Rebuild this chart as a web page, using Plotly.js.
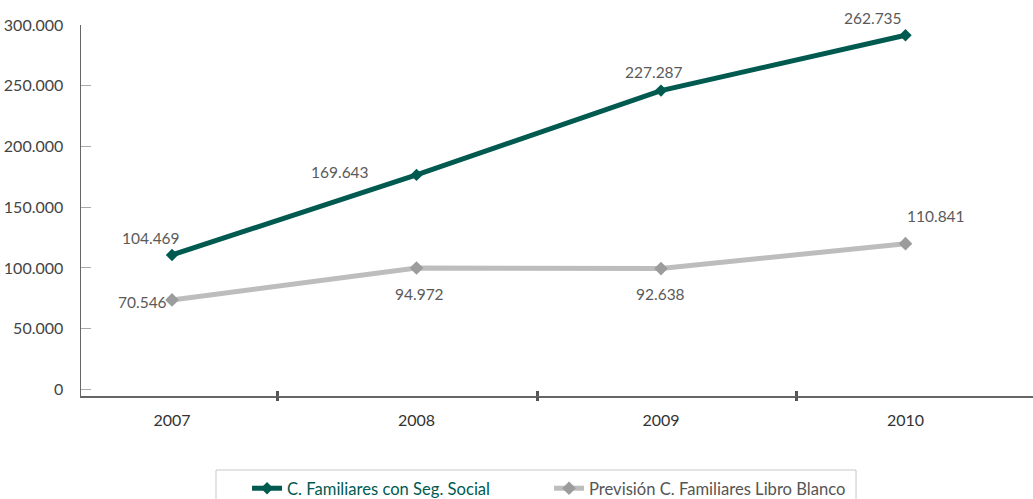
<!DOCTYPE html>
<html>
<head>
<meta charset="utf-8">
<script src="https://cdn.plot.ly/plotly-3.0.1.min.js"></script>
<style>html,body{margin:0;padding:0;background:#fff;}#chart{width:1033px;height:499px;}</style>
</head>
<body>
<div id="chart"></div>
<script>
// Data (values read from the plotted positions; labels as printed on the chart)
const years = [2007, 2008, 2009, 2010];
const seguroValues = [110700, 176600, 246000, 291600];
const seguroLabels = ['104.469', '169.643', '227.287', '262.735'];
const libroValues = [73700, 100000, 99500, 120000];
const libroLabels = ['70.546', '94.972', '92.638', '110.841'];
const yTickVals = [0, 50000, 100000, 150000, 200000, 250000, 300000];
const yTickText = ['0', '50.000', '100.000', '150.000', '200.000', '250.000', '300.000'];
const seriesNames = ['C. Familiares con Seg. Social', 'Previsión C. Familiares Libro Blanco'];

// label offsets (style, in px)
const seguroShift = [[-21.5, 17], [-77, 3.4], [-7, 18.6], [-32.5, 17.2]];
const libroShift = [[-30, -2], [2.5, -26], [-1, -25.4], [30.5, 27.7]];

const green = '#005a50';
const grayLine = '#bdbdbd';
const grayMarker = '#9c9c9c';
const FONT = 'Lato, "Open Sans", sans-serif';
const labelColor = '#5a5a5a';

const traces = [
  {
    x: years, y: seguroValues,
    type: 'scatter', mode: 'lines+markers',
    name: '<span style="color:' + green + '">' + seriesNames[0] + '</span>',
    line: {color: green, width: 5},
    marker: {symbol: 'diamond', size: 9.5, color: green},
    hoverinfo: 'skip'
  },
  {
    x: years, y: libroValues,
    type: 'scatter', mode: 'lines+markers',
    name: '<span style="color:#555">' + seriesNames[1] + '</span>',
    line: {color: grayLine, width: 5},
    marker: {symbol: 'diamond', size: 10.5, color: grayMarker},
    hoverinfo: 'skip'
  },
  {x: [2], y: [null], xaxis: 'x2', yaxis: 'y', mode: 'lines', showlegend: false, hoverinfo: 'skip'},
  {x: [2], y: [null], xaxis: 'x3', yaxis: 'y', mode: 'lines', showlegend: false, hoverinfo: 'skip'}
];

const annotations = [];
function addLabels(vals, labels, shifts) {
  vals.forEach((v, i) => {
    annotations.push({
      x: years[i], y: v, xref: 'x', yref: 'y', text: labels[i], showarrow: false,
      xanchor: 'center', yanchor: 'middle', xshift: shifts[i][0], yshift: shifts[i][1],
      font: {family: FONT, size: 15.5, color: labelColor}
    });
  });
}
addLabels(seguroValues, seguroLabels, seguroShift);
addLabels(libroValues, libroLabels, libroShift);

const layout = {
  width: 1033, height: 499,
  margin: {l: 81, r: 0, t: 25, b: 103, autoexpand: false},
  paper_bgcolor: '#fff', plot_bgcolor: '#fff',
  font: {family: FONT, size: 16, color: '#444'},
  showlegend: true,
  legend: {
    orientation: 'h', x: 0.1744, y: -0.202, xanchor: 'left', yanchor: 'top',
    borderwidth: 0, bgcolor: 'rgba(0,0,0,0)',
    font: {family: FONT, size: 16.6, color: '#555'},
    entrywidth: 257
  },
  shapes: [{
    type: 'rect', xref: 'paper', yref: 'paper',
    x0: 0.1418, x1: 0.8141, y0: -0.1995, y1: -0.4,
    line: {color: '#c8c8c8', width: 1}, fillcolor: 'rgba(0,0,0,0)', layer: 'below'
  }],
  annotations: annotations,
  xaxis: {
    type: 'linear', range: [2006.6278, 2010.5215],
    tickvals: years, ticktext: years.map(String),
    ticks: '', showgrid: false, zeroline: false,
    showline: true, linecolor: '#666', linewidth: 1.5,
    tickfont: {family: FONT, size: 16, color: '#333'},
    ticklabelstandoff: 9,
    fixedrange: true
  },
  xaxis2: {
    overlaying: 'x', anchor: 'y', range: [0.741, 4.41],
    tickvals: [1.5, 2.5, 3.5], showticklabels: false,
    ticks: 'outside', ticklen: 4, tickwidth: 3, tickcolor: '#555',
    showgrid: false, zeroline: false, showline: false
  },
  xaxis3: {
    overlaying: 'x', anchor: 'y', range: [0.741, 4.41],
    tickvals: [1.5, 2.5, 3.5], showticklabels: false,
    ticks: 'inside', ticklen: 5, tickwidth: 3, tickcolor: '#555',
    showgrid: false, zeroline: false, showline: false
  },
  yaxis: {
    range: [-5400, 300000],
    tickvals: yTickVals, ticktext: yTickText,
    ticks: 'inside', ticklen: 10, tickwidth: 1, tickcolor: '#aaa',
    showgrid: false, zeroline: false,
    showline: true, linecolor: '#666', linewidth: 1.5,
    tickfont: {family: FONT, size: 16, color: '#444'},
    ticklabelstandoff: 13,
    fixedrange: true
  }
};

Plotly.newPlot('chart', traces, layout, {displayModeBar: false, staticPlot: true});
</script>
</body>
</html>
